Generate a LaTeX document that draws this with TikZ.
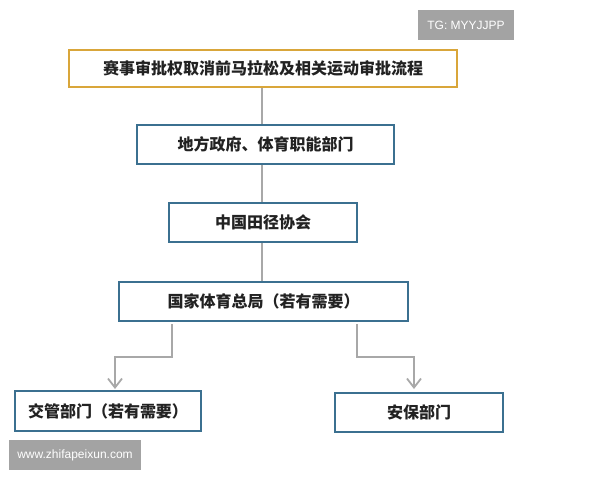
\documentclass[tikz,border=0pt]{standalone}
\usepackage{fontspec}
\setmainfont{Liberation Sans}
\newfontfamily\cjk{Noto Sans CJK SC}
\usetikzlibrary{arrows.meta}
\definecolor{boxblue}{HTML}{3B7090}
\definecolor{boxgold}{HTML}{D9A63A}
\definecolor{linegray}{HTML}{A8A8A8}
\definecolor{wmgray}{HTML}{A3A3A3}
\definecolor{txt}{HTML}{222222}
\begin{document}
\begin{tikzpicture}[x=1pt,y=-1pt,
  flowbox/.style={draw=boxblue,line width=1.7pt,fill=white,inner sep=0pt,
    font=\cjk\bfseries\fontsize{16}{18}\selectfont,text=txt},
  titlebox/.style={flowbox,draw=boxgold},
  conn/.style={draw=linegray,line width=1.8pt},
  arr/.style={conn,-{Straight Barb[length=9pt,width=14pt,line width=1.8pt]}},
  wm/.style={fill=wmgray,text=white,inner sep=0pt,font=\fontsize{12}{14}\selectfont}]
\useasboundingbox (0,0) rectangle (600,480);
\fill[white] (0,0) rectangle (600,480);
\node[wm,minimum width=96pt,minimum height=30pt] (tg) at (466,25) {TG: MYYJJPP};
\node[wm,minimum width=132pt,minimum height=30pt] (www) at (75,455) {www.zhifapeixun.com};
\node[titlebox,minimum width=388pt,minimum height=37pt] (t) at (263,68.5) {赛事审批权取消前马拉松及相关运动审批流程};
\node[flowbox,minimum width=257pt,minimum height=39pt] (b2) at (265.5,144.5) {地方政府、体育职能部门};
\node[flowbox,minimum width=188pt,minimum height=39pt] (b3) at (263,222.5) {中国田径协会};
\node[flowbox,minimum width=289pt,minimum height=39pt] (b4) at (263.5,301.5) {国家体育总局（若有需要）};
\node[flowbox,minimum width=186pt,minimum height=40pt] (b5) at (108,411) {交管部门（若有需要）};
\node[flowbox,minimum width=168pt,minimum height=39pt] (b6) at (419,412.5) {安保部门};
\coordinate (l1) at (172,324);
\coordinate (l2) at (115,389);
\coordinate (r1) at (357,324);
\coordinate (r2) at (414,389);
\draw[conn] (t.south -| 262,0) -- (b2.north -| 262,0);
\draw[conn] (b2.south -| 262,0) -- (b3.north -| 262,0);
\draw[conn] (b3.south -| 262,0) -- (b4.north -| 262,0);
\draw[arr] (l1) -- (172,357) -| (l2);
\draw[arr] (r1) -- (357,357) -| (r2);
\end{tikzpicture}
\end{document}
